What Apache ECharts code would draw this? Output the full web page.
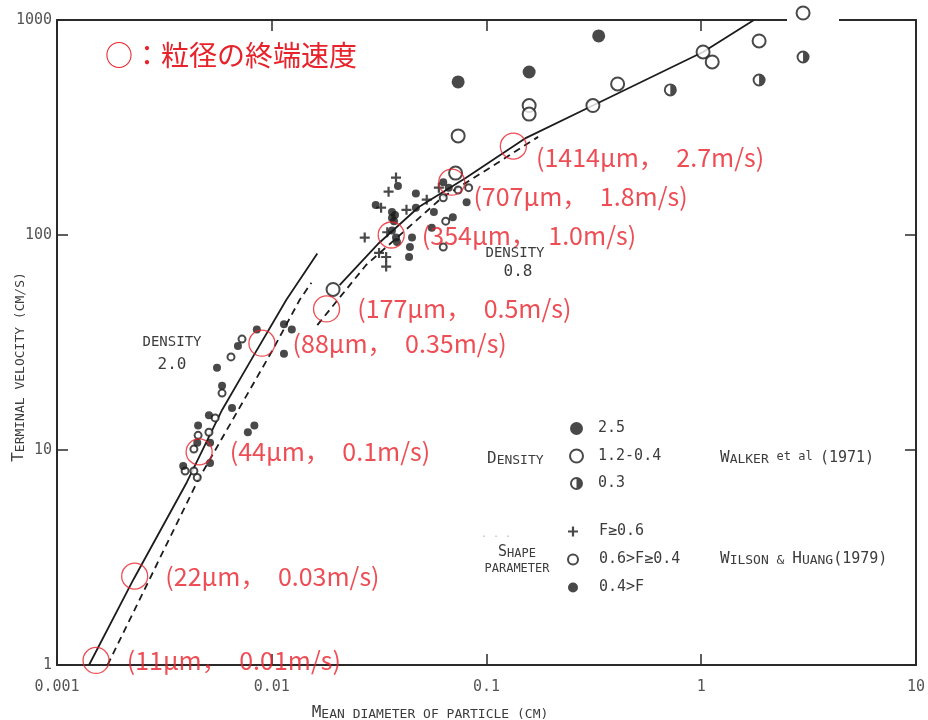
<!DOCTYPE html>
<html>
<head>
<meta charset="utf-8">
<script src="https://cdn.jsdelivr.net/npm/echarts@6/dist/echarts.min.js"></script>
<style>html,body{margin:0;padding:0;background:#fff}#c{width:928px;height:720px}</style>
</head>
<body>
<div id="c"></div>
<script>
// ---------- data (x: mean diameter cm, y: terminal velocity cm/s) ----------
const xTicks = [0.001, 0.01, 0.1, 1, 10];
const xTickLabels = ['0.001', '0.01', '0.1', '1', '10'];
const yTicks = [1, 10, 100, 1000];
const yTickLabels = ['1', '10', '100', '1000'];

const density20Solid = [[0.00141,1],[0.00227,2.5],[0.00403,7.1],[0.00588,15.4],[0.00817,27.1],[0.0117,50],[0.0163,82]];
const density20Dashed = [[0.00172,1],[0.00454,7.25],[0.0101,29.2],[0.0135,50],[0.0153,60]];
const density08Solid = [[0.0207,58.5],[0.0316,91.8],[0.0484,135],[0.080,184],[0.153,283],[0.313,400],[1.02,710],[1.76,1000]];
const density08Dashed = [[0.0163,38.1],[0.0275,72.5],[0.062,149],[0.105,207],[0.174,286]];

// Walker et al (1971)
const walkerD25 = [[0.0738,515],[0.158,573],[0.333,843]];
const walkerD12 = [[0.0738,289],[0.158,400],[0.158,365],[0.313,400],[0.408,504],[1.02,710],[1.125,638],[1.86,799],[2.98,1078],[0.0718,194],[0.0193,55.8]];
const walkerD03 = [[0.718,473],[1.86,526],[2.98,673]];

// Wilson & Huang (1979)
const wilsonF06 = [[0.0379,185],[0.035,159],[0.0424,131],[0.0271,97.3],[0.0316,82.5],[0.0341,79],[0.0341,71.3],[0.0527,146],[0.060,166],[0.0323,134],[0.0345,103]];
const wilsonF04 = [[0.00727,32.8],[0.00646,27.1],[0.00587,18.4],[0.00545,14.1],[0.0051,12.1],[0.00454,11.7],[0.00434,10.1],[0.00395,7.99],[0.00434,7.99],[0.0045,7.45],[0.0646,116],[0.0629,87.9],[0.0629,149],[0.0826,166],[0.0738,162]];
const wilsonF00 = [[0.00852,36.3],[0.00696,30.5],[0.00556,24.1],[0.00587,19.9],[0.00653,15.7],[0.0051,14.5],[0.00454,13.0],[0.0083,13.0],[0.00774,12.1],[0.0045,10.8],[0.00516,10.8],[0.00516,8.7],[0.00387,8.43],[0.0114,38.5],[0.0124,36.3],[0.0114,28.0],
  [0.0387,169],[0.0305,138],[0.0469,156],[0.0469,134],[0.0363,128],[0.0371,116],[0.0375,124],[0.0363,120],[0.0363,105],[0.0379,97.3],[0.0383,92.8],[0.045,97.3],[0.044,87.9],[0.0436,79],[0.0569,128],[0.0556,108],[0.0808,142],[0.0629,176],[0.0667,166],[0.0697,121]];

// red annotation circles
const markX = [0.00152,0.0023,0.00459,0.0090,0.0180,0.036,0.0689,0.1334];
const markY = [1.05,2.59,9.8,31.4,45.3,100,176,259];
const markLabels = ['(11μm，\u20020.01m/s)','(22μm，\u20020.03m/s)','(44μm，\u20020.1m/s)','(88μm，\u20020.35m/s)','(177μm，\u20020.5m/s)','(354μm，\u20021.0m/s)','(707μm，\u20021.8m/s)','(1414μm，\u20022.7m/s)'];

// ---------- styling ----------
const INK = '#1c1c1c';
const TXT = '#3c3c3c';
const RED = '#e8222a';
const MONO = '"DejaVu Sans Mono", monospace';
const CJK = '"Noto Sans CJK JP", sans-serif';
const HALF = 'path://M10,0A10,10,0,1,1,10,20A10,10,0,1,1,10,0ZM10,3A7,7,0,1,0,10,17A7,7,0,1,0,10,3ZM10,3A7,7,0,0,1,10,17Z';
const PLUS = 'path://M3.9,0H6.1V3.9H10V6.1H6.1V10H3.9V6.1H0V3.9H3.9Z';

function tickFmt(ticks, labels) {
  return function (v) {
    let best = 0, bd = 1e9;
    ticks.forEach((t, i) => { const d = Math.abs(Math.log10(t) - Math.log10(v)); if (d < bd) { bd = d; best = i; } });
    return bd < 0.01 ? labels[best] : '';
  };
}

const scRich = (c, s) => ({
  c: { fontSize: c, fontFamily: MONO, color: TXT, fill: TXT, verticalAlign: 'bottom', lineHeight: c + 2 },
  s: { fontSize: s, fontFamily: MONO, color: TXT, fill: TXT, verticalAlign: 'bottom', lineHeight: c + 2 }
});

function txt(x, y, text, opts) {
  opts = opts || {};
  return {
    type: 'text', x: x, y: y, rotation: opts.rotation || 0, z: 10, silent: true,
    style: Object.assign({
      text: text, align: opts.align || 'left', verticalAlign: 'middle',
      fill: opts.fill || TXT, fontSize: opts.fontSize || 14, fontFamily: opts.fontFamily || MONO
    }, opts.rich ? { rich: opts.rich } : {})
  };
}

const chart = echarts.init(document.getElementById('c'), null, { renderer: 'canvas' });

const axisCommon = {
  type: 'log', logBase: 10,
  axisLine: { show: true, lineStyle: { color: '#2a2a2a', width: 2 } },
  axisTick: { show: true, inside: true, length: 11, lineStyle: { color: '#2a2a2a', width: 1.5 } },
  splitLine: { show: false }, minorTick: { show: false }
};

const markData = markX.map((x, i) => {
  const d = { value: [x, markY[i]] };
  if (i === 6) d.label = { offset: [-9, 14] };
  if (i === 7) d.label = { offset: [-8, 11] };
  return d;
});

const option = {
  animation: false,
  backgroundColor: '#fff',
  grid: { left: 57, top: 20, width: 863, height: 645, containLabel: false },
  xAxis: [
    Object.assign({}, axisCommon, {
      min: xTicks[0], max: xTicks[xTicks.length - 1], position: 'bottom',
      axisLabel: { margin: 15, fontFamily: MONO, fontSize: 15, color: '#555', formatter: tickFmt(xTicks, xTickLabels) }
    }),
    Object.assign({}, axisCommon, {
      min: xTicks[0], max: xTicks[xTicks.length - 1], position: 'top', axisLabel: { show: false }
    })
  ],
  yAxis: [
    Object.assign({}, axisCommon, {
      min: yTicks[0], max: yTicks[yTicks.length - 1], position: 'left',
      axisLabel: { margin: 5, fontFamily: MONO, fontSize: 15, color: '#555', formatter: tickFmt(yTicks, yTickLabels) }
    }),
    Object.assign({}, axisCommon, {
      min: yTicks[0], max: yTicks[yTicks.length - 1], position: 'right', axisLabel: { show: false }
    })
  ],
  legend: [
    {
      orient: 'vertical', left: 569, top: 421, padding: 0, itemWidth: 13, itemHeight: 13, itemGap: 12.5,
      selectedMode: false,
      data: [{ name: '2.5', icon: 'circle' }, { name: '1.2-0.4', icon: 'emptyCircle' }, { name: '0.3', icon: HALF }],
      textStyle: { fontFamily: MONO, fontSize: 15, lineHeight: 15, color: TXT, padding: [0, 0, 0, 10] }
    },
    {
      orient: 'vertical', left: 567, top: 524, padding: 0, itemWidth: 10, itemHeight: 10, itemGap: 13,
      selectedMode: false,
      data: [{ name: 'F≥0.6', icon: PLUS }, { name: '0.6>F≥0.4', icon: 'emptyCircle' }, { name: '0.4>F', icon: 'circle' }],
      textStyle: { fontFamily: MONO, fontSize: 15, lineHeight: 15, color: TXT, padding: [0, 0, 0, 16] }
    }
  ],
  graphic: [
    { type: 'rect', z: 1, silent: true, shape: { x: 787, y: 16, width: 52, height: 8 }, style: { fill: '#fff' } },
    txt(105, 55, '○：粒径の終端速度', { fill: RED, fontSize: 28, fontFamily: CJK }),
    txt(172, 342, 'DENSITY', { align: 'center', fontSize: 14 }),
    txt(172, 365, '2.0', { align: 'center', fontSize: 16 }),
    txt(515, 253, 'DENSITY', { align: 'center', fontSize: 14 }),
    txt(518, 272, '0.8', { align: 'center', fontSize: 16 }),
    txt(487, 458, '{c|D}{s|ENSITY}', { rich: scRich(16, 13) }),
    txt(496, 537, '· · ·', { align: 'center', fontSize: 10, fill: '#bbb' }),
    txt(517, 551, '{c|S}{s|HAPE}', { align: 'center', rich: scRich(15, 12) }),
    txt(517, 566, '{s|PARAMETER}', { align: 'center', rich: scRich(15, 12) }),
    txt(720, 457, '{c|W}{s|ALKER }{e|et al }{n|(1971)}', { rich: Object.assign(scRich(16, 13), { e: { fontSize: 12, fontFamily: MONO, fill: TXT, color: TXT, verticalAlign: 'bottom', lineHeight: 18, padding: [0, 0, 3, 0] }, n: { fontSize: 15, fontFamily: MONO, fill: TXT, color: TXT, verticalAlign: 'bottom', lineHeight: 18 } }) }),
    txt(720, 558, '{c|W}{s|ILSON & }{c|H}{s|UANG}{n|(1979)}', { rich: Object.assign(scRich(16, 13), { n: { fontSize: 15, fontFamily: MONO, fill: TXT, color: TXT, verticalAlign: 'bottom', lineHeight: 18 } }) }),
    txt(430, 712, '{c|M}{s|EAN DIAMETER OF PARTICLE (CM)}', { align: 'center', rich: scRich(16, 13) }),
    txt(18, 367, '{c|T}{s|ERMINAL VELOCITY (CM/S)}', { align: 'center', rotation: Math.PI / 2, rich: scRich(16, 13) })
  ],
  series: [
    { name: 'd20s', type: 'line', data: density20Solid, showSymbol: false, silent: true, z: 1, lineStyle: { color: INK, width: 1.8 } },
    { name: 'd20d', type: 'line', data: density20Dashed, showSymbol: false, silent: true, z: 1, lineStyle: { color: INK, width: 1.8, type: [7, 5] } },
    { name: 'd08s', type: 'line', data: density08Solid, showSymbol: false, silent: true, z: 1, lineStyle: { color: INK, width: 1.8 } },
    { name: 'd08d', type: 'line', data: density08Dashed, showSymbol: false, silent: true, z: 1, lineStyle: { color: INK, width: 1.8, type: [7, 5] } },
    { name: '2.5', type: 'scatter', data: walkerD25, symbol: 'circle', symbolSize: 13, clip: false, itemStyle: { color: INK } },
    { name: '1.2-0.4', type: 'scatter', data: walkerD12, symbol: 'emptyCircle', symbolSize: 13, clip: false, itemStyle: { color: INK, borderWidth: 1.8 } },
    { name: '0.3', type: 'scatter', data: walkerD03, symbol: HALF, symbolSize: 13, clip: false, itemStyle: { color: INK } },
    { name: 'F≥0.6', type: 'scatter', data: wilsonF06, symbol: PLUS, symbolSize: 10, clip: false, itemStyle: { color: INK } },
    { name: '0.6>F≥0.4', type: 'scatter', data: wilsonF04, symbol: 'emptyCircle', symbolSize: 7, clip: false, itemStyle: { color: INK, borderWidth: 1.5 } },
    { name: '0.4>F', type: 'scatter', data: wilsonF00, symbol: 'circle', symbolSize: 8, clip: false, itemStyle: { color: INK } },
    {
      name: 'marks', type: 'scatter', data: markData, symbol: 'circle', symbolSize: 26, clip: false, z: 5,
      itemStyle: { color: 'rgba(0,0,0,0)', borderColor: RED, borderWidth: 1.3 },
      label: {
        show: true, position: 'right', distance: 17, color: RED, fontSize: 25, fontFamily: CJK,
        formatter: p => markLabels[p.dataIndex]
      }
    }
  ]
};
chart.setOption(option);
</script>
</body>
</html>
